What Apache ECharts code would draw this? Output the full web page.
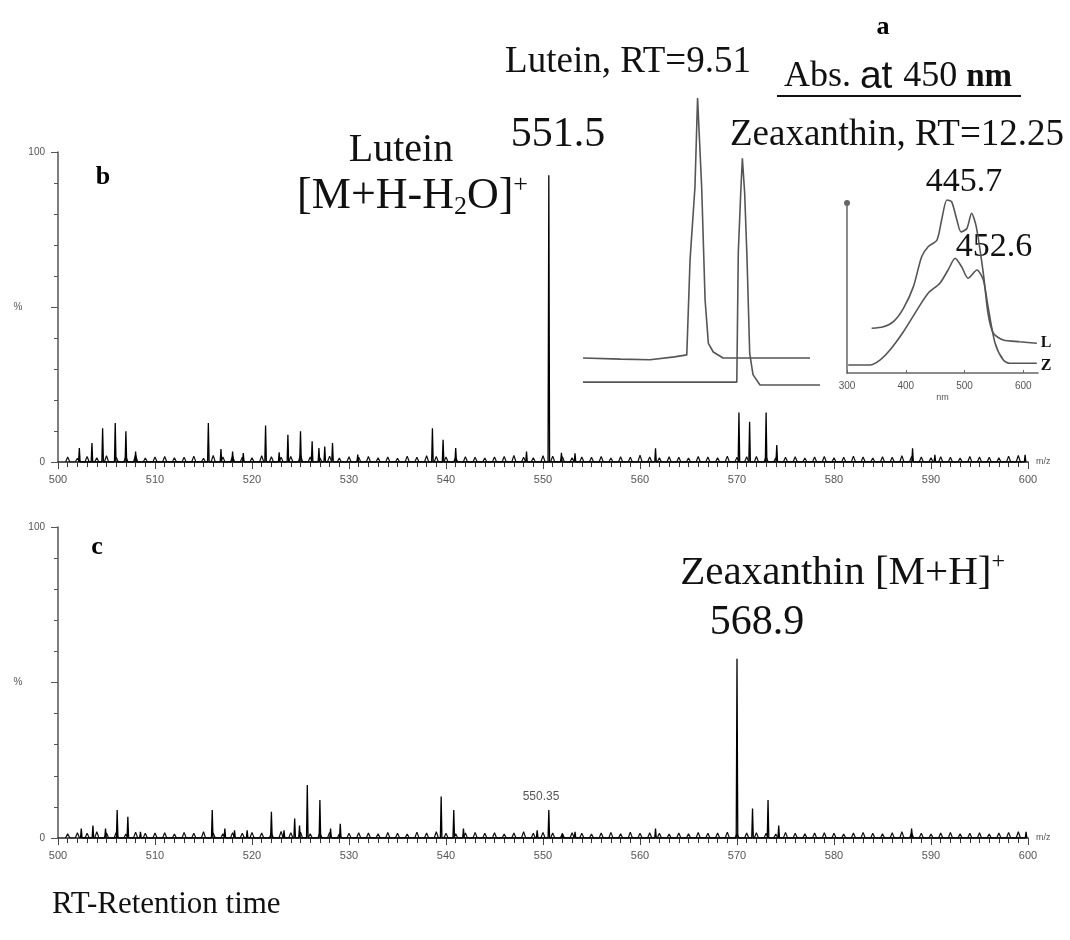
<!DOCTYPE html>
<html>
<head>
<meta charset="utf-8">
<script src="https://cdn.jsdelivr.net/npm/echarts@6/dist/echarts.min.js"></script>
<style>html,body{margin:0;padding:0;background:#fff;}#c{width:1070px;height:940px;}</style>
</head>
<body>
<div id="c"></div>
<script>
// ---- Panel b: MS spectrum (Lutein) ----
const peaksB_mz  = [502.2,503.5,504.6,505.9,507.0,508.0,515.5,516.8,518.0,519.1,521.4,522.8,523.7,525.0,526.2,526.9,527.5,528.3,530.9,538.6,539.7,541.0,548.3,550.6,551.9,553.3,561.6,570.2,571.3,573.0,574.1,588.1,590.4,599.7];
const peaksB_int = [4.5,6.1,10.9,12.6,9.9,3.4,12.6,4.2,3.4,2.9,11.8,3.1,8.8,9.9,6.7,4.5,5.0,6.1,2.4,10.9,7.2,4.5,3.4,92.5,3.0,2.8,4.4,16,13,16,5.5,4.4,2.3,2.3];
// ---- Panel c: MS spectrum (Zeaxanthin) ----
const peaksC_mz  = [502.4,503.6,504.9,506.1,507.2,508.5,515.9,517.2,518.2,519.5,522.0,523.3,524.4,524.9,525.7,527.0,528.1,529.1,539.5,540.8,541.8,549.4,550.6,552.0,553.3,561.6,570.0,571.6,573.2,574.3,588.0,599.8];
const peaksC_int = [3,4,3,9,6.8,2,9,3,2.5,2.5,8.4,2.5,6.3,4,17,12.2,3,4.6,13.3,9,3,2.5,9,1.5,2,3,57.6,9.5,12.2,4,3,2];
// baseline noise, one value per unit m/z starting at noiseStart
const noiseStart = 501;
const noiseB = [1.6,1.2,1.8,1.4,2.0,1.5,1.7,2.2,1.3,1.6,
                1.8,1.4,1.5,1.9,1.2,2.1,1.6,1.8,1.5,1.4,
                2.0,1.7,1.5,1.8,2.3,1.6,1.4,1.9,1.3,1.7,
                1.5,1.8,1.4,1.6,1.2,1.9,1.5,2.0,1.8,1.6,
                1.4,1.7,1.5,1.3,1.6,1.8,2.1,1.5,1.4,2.0,
                1.9,1.7,1.4,1.6,1.5,1.8,1.3,1.7,1.5,2.2,
                1.6,1.4,1.7,1.5,1.3,1.8,1.6,1.4,1.9,1.5,
                1.7,1.8,1.6,1.4,1.5,1.7,1.3,1.6,1.8,1.4,
                1.5,1.9,1.6,1.3,1.7,1.5,2.0,1.8,1.6,1.4,
                1.7,1.5,1.3,1.8,1.6,1.5,1.4,1.9,2.1];
const noiseC = [1.4,1.7,1.5,2.0,1.6,1.8,1.3,1.9,1.5,1.6,
                1.7,1.3,1.8,1.5,2.0,1.6,1.4,1.7,1.5,1.8,
                1.6,1.5,2.1,1.7,1.9,1.4,1.6,1.8,1.3,1.5,
                1.7,1.6,1.4,1.8,1.5,1.3,1.9,1.6,2.0,1.5,
                1.4,1.6,1.8,1.5,1.7,1.3,1.6,2.0,1.5,1.8,
                1.6,1.4,1.7,1.5,1.3,1.6,1.8,1.4,1.9,1.5,
                1.7,1.5,1.3,1.6,1.4,1.8,1.5,1.6,1.9,1.4,
                1.6,1.7,1.5,1.3,1.8,1.5,1.4,1.6,1.7,1.5,
                1.3,1.6,1.8,1.5,1.4,1.7,2.0,1.6,1.5,1.3,
                1.6,1.8,1.4,1.5,1.7,1.3,1.6,1.8,2.0];
// ---- Inset a: chromatogram at 450 nm (RT in min) ----
const luteinRT  = [2.5,4.8,6.6,8.1,8.85,9.05,9.35,9.51,9.76,9.97,10.17,10.47,11.07,13.5,16.39];
const luteinAbs = [9.4,9.0,8.8,9.8,10.5,43.6,69,100,69,29.6,14.5,11.5,9.4,9.4,9.4];
const zeaRT  = [2.5,6.0,11.91,12.0,12.15,12.25,12.39,12.53,12.7,12.9,13.33,17.0];
const zeaAbs = [1,1,1,46,67,79,67,45,11,3.6,0,0];
// ---- Inset: UV-Vis spectra ----
const uvL_nm  = [342,362,379,396,413,427,438,453,461,470,478,487,494,504,512,520,532,540,549,566,594,623];
const uvL_abs = [26.3,27.2,30.2,38,50.8,68.4,74.3,78.2,90,101.8,100.8,90,83,85,94,86,58.6,35,23.4,19.4,18.4,17.5];
const uvZ_nm  = [302,339,356,373,396,419,438,458,472,484,495,506,521,532,540,552,566,577,623];
const uvZ_abs = [4.7,4.7,7.6,13.5,24.3,37,46.9,52.8,60.6,67.5,62.5,55.7,60.6,54.7,39,17.5,7.6,5.7,5.7];

function sticks(mz, h, w) {
  const d = [];
  mz.forEach((m, i) => { d.push([m - w, 0], [m, h[i]], [m + w, 0]); });
  return d;
}
function bumps(start, arr, w) {
  const d = [];
  arr.forEach((h, i) => { const m = start + i; d.push([m - w, 0], [m, h], [m + w, 0]); });
  return d;
}
function zip(a, b) { return a.map((v, i) => [v, b[i]]); }

const serif = "'Liberation Serif','Times New Roman',serif";
const sans = "'Liberation Sans',Arial,sans-serif";

function msX(gi) {
  return {
    type: 'value', gridIndex: gi, min: 500, max: 600, interval: 10,
    axisLine: { show: true, onZero: false, lineStyle: { color: '#222', width: 1.6 } },
    axisTick: { show: true, length: 7, lineStyle: { color: '#444' } },
    minorTick: { show: true, splitNumber: 10, length: 5, lineStyle: { color: '#333' } },
    splitLine: { show: false }, minorSplitLine: { show: false },
    axisLabel: { color: '#555', fontSize: 11, margin: 12, fontFamily: sans },
    name: 'm/z', nameLocation: 'end', nameGap: 8,
    nameTextStyle: { color: '#555', fontSize: 9, fontFamily: sans, padding: [0, 0, 10, 0] }
  };
}
function msY(gi) {
  return {
    type: 'value', gridIndex: gi, min: 0, max: 100, interval: 50,
    axisLine: { show: true, lineStyle: { color: '#555', width: 1.5 } },
    axisTick: { show: true, length: 7, lineStyle: { color: '#555' } },
    minorTick: { show: true, splitNumber: 5, length: 4, lineStyle: { color: '#555' } },
    splitLine: { show: false }, minorSplitLine: { show: false },
    axisLabel: { color: '#555', fontSize: 10, margin: 13, fontFamily: sans, formatter: v => (v === 50 ? '' : String(v)) },
    name: '%', nameLocation: 'middle', nameGap: 32, nameRotate: 0,
    nameTextStyle: { color: '#555', fontSize: 10, fontFamily: sans }
  };
}

const chart = echarts.init(document.getElementById('c'), null, { renderer: 'canvas' });
const option = {
  animation: false,
  backgroundColor: '#fff',
  grid: [
    { left: 58, top: 152, width: 970, height: 310 },
    { left: 58, top: 527, width: 970, height: 311 },
    { left: 583, top: 98, width: 237, height: 287 },
    { left: 847, top: 203, width: 191, height: 170 }
  ],
  xAxis: [
    msX(0), msX(1),
    { type: 'value', gridIndex: 2, min: 2.5, max: 17, show: false },
    { type: 'value', gridIndex: 3, min: 300, max: 625, interval: 100,
      axisLine: { show: true, onZero: false, lineStyle: { color: '#666', width: 1.5 } },
      axisTick: { show: true, inside: true, length: 3, lineStyle: { color: '#666' } },
      splitLine: { show: false },
      axisLabel: { color: '#555', fontSize: 10, margin: 8, fontFamily: sans, showMaxLabel: false },
      name: 'nm', nameLocation: 'middle', nameGap: 20,
      nameTextStyle: { color: '#555', fontSize: 9, fontFamily: sans } }
  ],
  yAxis: [
    msY(0), msY(1),
    { type: 'value', gridIndex: 2, min: 0, max: 100, show: false },
    { type: 'value', gridIndex: 3, min: 0, max: 100,
      axisLine: { show: true, symbol: ['none', 'circle'], symbolSize: [6, 6], lineStyle: { color: '#666', width: 1.5 } },
      axisTick: { show: false }, axisLabel: { show: false }, splitLine: { show: false } }
  ],
  series: [
    { type: 'line', xAxisIndex: 0, yAxisIndex: 0, showSymbol: false, data: bumps(noiseStart, noiseB, 0.22),
      lineStyle: { color: '#111', width: 1.2 } },
    { type: 'line', xAxisIndex: 0, yAxisIndex: 0, showSymbol: false, data: sticks(peaksB_mz, peaksB_int, 0.08),
      lineStyle: { color: '#000', width: 1.3 } },
    { type: 'line', xAxisIndex: 1, yAxisIndex: 1, showSymbol: false, data: bumps(noiseStart, noiseC, 0.22),
      lineStyle: { color: '#111', width: 1.2 } },
    { type: 'line', xAxisIndex: 1, yAxisIndex: 1, showSymbol: false, data: sticks(peaksC_mz, peaksC_int, 0.08),
      lineStyle: { color: '#000', width: 1.3 } },
    { type: 'line', xAxisIndex: 2, yAxisIndex: 2, showSymbol: false, clip: false, data: zip(luteinRT, luteinAbs),
      lineStyle: { color: '#555', width: 1.6 } },
    { type: 'line', xAxisIndex: 2, yAxisIndex: 2, showSymbol: false, clip: false, data: zip(zeaRT, zeaAbs),
      lineStyle: { color: '#555', width: 1.6 } },
    { type: 'line', xAxisIndex: 3, yAxisIndex: 3, showSymbol: false, clip: false, smooth: 0.25, data: zip(uvL_nm, uvL_abs),
      lineStyle: { color: '#555', width: 1.6 } },
    { type: 'line', xAxisIndex: 3, yAxisIndex: 3, showSymbol: false, clip: false, smooth: 0.25, data: zip(uvZ_nm, uvZ_abs),
      lineStyle: { color: '#555', width: 1.6 } }
  ],
  graphic: [
    { type: 'text', x: 883, y: 27, style: { text: 'a', font: 'bold 26px ' + serif, fill: '#000', align: 'center', verticalAlign: 'middle' } },
    { type: 'text', x: 628, y: 62, style: { text: 'Lutein, RT=9.51', font: '37px ' + serif, fill: '#111', align: 'center', verticalAlign: 'middle' } },
    { type: 'text', x: 898, y: 77, style: { text: '{s|Abs. }{a|at }{s|450 }{n|nm}', fill: '#111', align: 'center', verticalAlign: 'middle',
        rich: { s: { fontFamily: serif, fontSize: 36, fill: '#111' }, a: { fontFamily: sans, fontSize: 39, fill: '#111' }, n: { fontFamily: serif, fontSize: 33, fontWeight: 'bold', fill: '#111' } } } },
    { type: 'line', shape: { x1: 777, y1: 96, x2: 1021, y2: 96 }, style: { stroke: '#111', lineWidth: 2 } },
    { type: 'text', x: 897, y: 135, style: { text: 'Zeaxanthin, RT=12.25', font: '37px ' + serif, fill: '#111', align: 'center', verticalAlign: 'middle' } },
    { type: 'text', x: 964, y: 182, style: { text: '445.7', font: '34px ' + serif, fill: '#111', align: 'center', verticalAlign: 'middle' } },
    { type: 'text', x: 994, y: 247, style: { text: '452.6', font: '34px ' + serif, fill: '#111', align: 'center', verticalAlign: 'middle' } },
    { type: 'text', x: 1046, y: 343, style: { text: 'L', font: 'bold 16px ' + serif, fill: '#111', align: 'center', verticalAlign: 'middle' } },
    { type: 'text', x: 1046, y: 366, style: { text: 'Z', font: 'bold 16px ' + serif, fill: '#111', align: 'center', verticalAlign: 'middle' } },
    { type: 'text', x: 103, y: 177, style: { text: 'b', font: 'bold 26px ' + serif, fill: '#000', align: 'center', verticalAlign: 'middle' } },
    { type: 'text', x: 401, y: 150, style: { text: 'Lutein', font: '40px ' + serif, fill: '#111', align: 'center', verticalAlign: 'middle' } },
    { type: 'text', x: 528, y: 196, style: { text: '{n|[M+H-H}{s|2}{n|O]}{p|+}', align: 'right', verticalAlign: 'middle',
        rich: { n: { fontFamily: serif, fontSize: 44, fill: '#111', lineHeight: 48 },
                s: { fontFamily: serif, fontSize: 26, fill: '#111', verticalAlign: 'bottom', lineHeight: 48, padding: [14, 0, 0, 0] },
                p: { fontFamily: serif, fontSize: 26, fill: '#111', verticalAlign: 'top', lineHeight: 48, padding: [0, 0, 14, 0] } } } },
    { type: 'text', x: 558, y: 135, style: { text: '551.5', font: '42px ' + serif, fill: '#111', align: 'center', verticalAlign: 'middle' } },
    { type: 'text', x: 97, y: 547, style: { text: 'c', font: 'bold 26px ' + serif, fill: '#000', align: 'center', verticalAlign: 'middle' } },
    { type: 'text', x: 1005, y: 573, style: { text: '{n|Zeaxanthin [M+H]}{p|+}', align: 'right', verticalAlign: 'middle',
        rich: { n: { fontFamily: serif, fontSize: 41, fill: '#111', lineHeight: 46 },
                p: { fontFamily: serif, fontSize: 24, fill: '#111', verticalAlign: 'top', lineHeight: 46, padding: [0, 0, 14, 0] } } } },
    { type: 'text', x: 757, y: 623, style: { text: '568.9', font: '42px ' + serif, fill: '#111', align: 'center', verticalAlign: 'middle' } },
    { type: 'text', x: 541, y: 797, style: { text: '550.35', font: '12px ' + sans, fill: '#555', align: 'center', verticalAlign: 'middle' } },
    { type: 'text', x: 52, y: 905, style: { text: 'RT-Retention time', font: '31px ' + serif, fill: '#111', align: 'left', verticalAlign: 'middle' } }
  ]
};
chart.setOption(option);
</script>
</body>
</html>
